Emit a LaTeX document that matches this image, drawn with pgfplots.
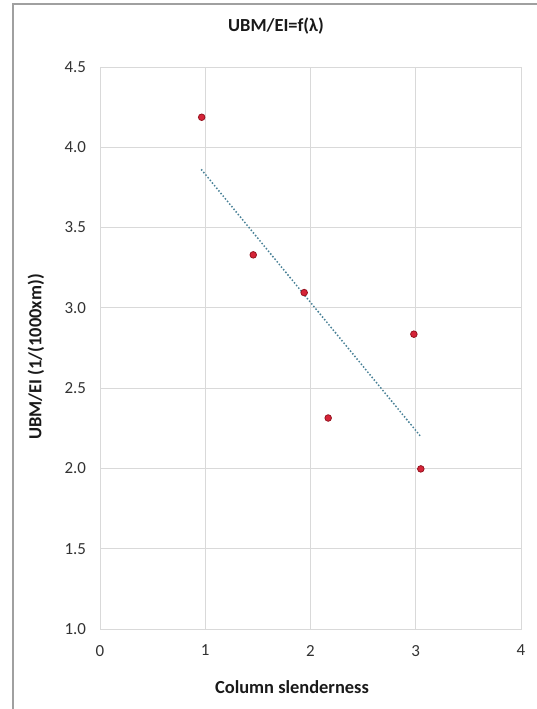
\documentclass[border=0pt]{standalone}
\usepackage{pgfplots}
\pgfplotsset{compat=1.18}
\usepackage{fontspec}
\setmainfont{Carlito}

\definecolor{gridgray}{RGB}{217,217,217}
\definecolor{framegray}{RGB}{160,160,160}
\definecolor{ticktext}{RGB}{50,50,50}
\definecolor{titletext}{RGB}{25,25,25}
\definecolor{trendteal}{RGB}{72,128,150}
\definecolor{markfill}{RGB}{214,36,56}
\definecolor{markdraw}{RGB}{150,20,32}

\newcommand\tickfont{\fontsize{17}{19}\selectfont}

\begin{document}
\begin{tikzpicture}[x=1bp,y=1bp]
\useasboundingbox (0,0) rectangle (537,709);
% outer chart frame (left and top edges)
\draw[framegray, line width=1.2bp] (13,0) -- (13,705) -- (537,705);

\begin{axis}[
  at={(100bp,80bp)}, anchor=south west,
  scale only axis, width=421bp, height=562bp,
  xmin=0, xmax=4, ymin=1, ymax=4.5,
  xtick={0,1,2,3,4},
  xticklabels={0,1,2,3,4},
  ytick={1,1.5,2,2.5,3,3.5,4,4.5},
  yticklabels={1.0,1.5,2.0,2.5,3.0,3.5,4.0,4.5},
  grid=major,
  grid style={gridgray, line width=0.8bp},
  axis line style={gridgray, line width=0.8bp},
  major tick length=0pt,
  x tick label style={font=\tickfont, text=ticktext, yshift=-12.5bp},
  y tick label style={font=\tickfont, text=ticktext, xshift=-10.5bp},
]
% linear trendline over the data range
\addplot[trendteal, line width=2.1bp, line cap=round, dash pattern=on 0bp off 3.4bp]
  coordinates {(0.966,3.859) (3.048,2.198)};
% measured values
\addplot[only marks, mark=*, mark size=3.3bp,
  mark options={fill=markfill, draw=markdraw, line width=0.8bp}]
  coordinates {
    (0.966,4.187)
    (1.456,3.330)
    (1.940,3.095)
    (2.168,2.314)
    (2.982,2.836)
    (3.048,1.997)
  };
\end{axis}

\node[font=\fontsize{18.5}{20}\selectfont\bfseries, text=titletext] at (276,683) {UBM/EI=f(λ)};
\node[font=\fontsize{18.5}{20}\selectfont\bfseries, text=titletext] at (292,22) {Column slenderness};
\node[font=\fontsize{18.5}{20}\selectfont\bfseries, text=titletext, rotate=90] at (36,352) {UBM/EI (1/(1000xm))};
\end{tikzpicture}
\end{document}
